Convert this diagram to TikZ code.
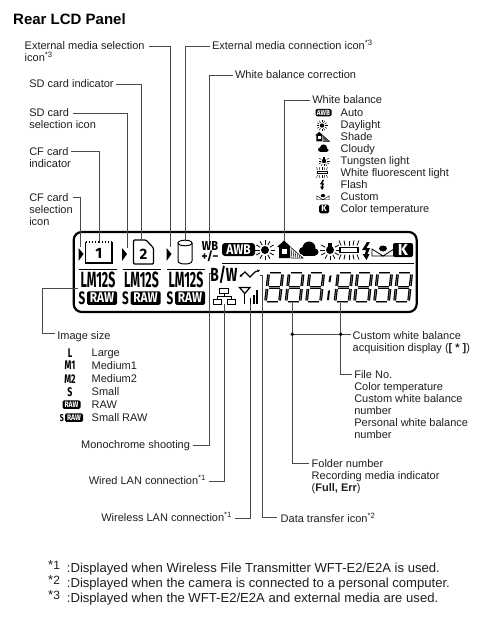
\documentclass[tikz,border=0pt]{standalone}
\usepackage{fontspec}
\setmainfont{Liberation Sans}
\newfontfamily\lcdfont{Fira Sans}
\usetikzlibrary{arrows.meta}
\definecolor{leadgray}{HTML}{4A4A4A}
\definecolor{txtgray}{HTML}{1E1E1E}
\newcommand{\nrw}[2][.7]{\scalebox{#1}[1]{#2}}
\newcommand{\fnmk}[1]{\textsuperscript{*#1}}
\newcommand{\notemk}[1]{\makebox[18.7pt][l]{\raisebox{3pt}{*\fontsize{12}{12}\selectfont #1}}}
\tikzset{
ray/.style={line width=.8pt},
tube/.style={line width=1.3pt},
sunicon/.pic={
\fill (0,0) circle (4);
\foreach \a in {0,30,...,330} \draw[ray] (\a:5.5) -- (\a:10);
},
houseicon/.pic={
\fill (-7,-9.5) -- (-14,-3) -- (-12,-3) -- (-12,8) -- (-1,8) -- (-1,-3) -- (0,-3) -- cycle;
\fill[white] (-9,-1) rectangle (-4,4);
\draw[ray,line width=.5pt] (0,-2.5) -- (12,8) -- (0,8);
\foreach \x in {1,3,...,11} \draw[ray,line width=.5pt] (\x,{\x*.87-2.5}) -- ({\x-1},8);
},
cloudicon/.pic={
\fill (-5,2) circle (4);
\fill (1,-1) circle (6.5);
\fill (7,3) circle (3.5);
\fill (-5,2) rectangle (7,6.5);
},
tungicon/.pic={
\fill (0,0) circle (4);
\fill (-2,-7) rectangle (2,-2);
\foreach \a in {0,30,60,90,120,150,180,210,330} \draw[ray] (\a:5.5) -- (\a:10);
},
fluoricon/.pic={
\draw[tube] (-9,-2.5) rectangle (9,2.5);
\foreach \x in {-8,-4,0,4,8} {
\draw[ray] (\x,-4.5) -- ({\x*1.25},-9.5);
\draw[ray] (\x,4.5) -- ({\x*1.25},9.5);
}
},
flashicon/.pic={
\fill (1,-9) -- (-4,-1) -- (0,-1) -- (-1,3) -- (-3.5,3) -- (.5,9) -- (3.5,3) -- (1.5,3) -- (4,-3) -- (.5,-3) -- (4,-9) -- cycle;
},
customicon/.pic={
\draw[ray] (-11,-2) -- (-11,5) -- (0,5) -- cycle;
\draw[ray] (11,-2) -- (11,5) -- (0,5) -- cycle;
\fill (0,-2.5) ellipse (4 and 3);
},
}
\begin{document}
\begin{tikzpicture}[
x=1pt,y=-1pt,
lbl/.style={anchor=north west,inner sep=0pt,outer xsep=2.5pt,yshift=-.6pt,align=left,text=txtgray,
font=\fontsize{11}{12}\selectfont},
one/.style={lbl,text height=7.9pt,text depth=2.3pt},
note/.style={anchor=west,inner sep=0pt,text=txtgray,font=\fontsize{13.1}{14}\selectfont},
lead/.style={draw=leadgray,line width=.9pt},
panel/.style={draw=black,line width=2.2pt,rounded corners=8pt,minimum width=343pt,minimum height=80pt,inner sep=0pt},
lcd/.style={inner sep=0pt,text=black,font=\lcdfont\bfseries},
lcdbox/.style={fill=black,rounded corners=1.5pt,text=white,inner sep=0pt,font=\lcdfont\bfseries},
seg/.style={line width=1.15pt,double=black!45,double distance=.5pt},
dotjoin/.style={circle,fill=black,inner sep=0pt,minimum size=3.8pt}
]
\useasboundingbox (0,0) rectangle (500,620);
\node[anchor=west,inner sep=0pt,font=\fontsize{15}{17}\selectfont\bfseries] (title) at (13,19) {Rear LCD Panel};

\node[panel] (lcdp) at (245.2,272) {};
\draw[line width=1pt] (222,263) -- (414,263);

\foreach \xo [count=\i] in {0,43.5,88} {
\fill ({78.5+\xo},248) -- ({83.5+\xo},254) -- ({78.5+\xo},261) -- cycle;
\draw[line width=.9pt] ({79+\xo},269) -- ({117+\xo},269);
\node[lcd,font=\lcdfont\bfseries\fontsize{22}{22}\selectfont] (lm\i) at ({98+\xo},280) {\nrw[.56]{LM12S}};
\node[lcd,font=\lcdfont\bfseries\fontsize{18}{18}\selectfont] (ss\i) at ({82+\xo},298) {\nrw[.65]{S}};
\node[lcdbox,minimum width=30pt,minimum height=13.5pt,font=\lcdfont\bfseries\fontsize{14}{14}\selectfont] (raw\i) at ({102+\xo},298) {\nrw[.85]{RAW}};
}

\draw[line width=1.2pt] (85.5,242) -- (85.5,263) -- (112,263) -- (112,242);
\draw[line width=1.2pt,dotted] (85.5,242) -- (112,242);
\node[lcd,font=\lcdfont\bfseries\fontsize{15}{15}\selectfont] (card1) at (98.8,253) {1};
\draw[line width=1.2pt,rounded corners=1pt] (133.5,240) -- (146,240) -- (153.5,248) -- (153.5,264) -- (133.5,264) -- cycle;
\node[lcd,font=\lcdfont\bfseries\fontsize{15}{15}\selectfont] (card2) at (143.5,254) {2};
\draw[line width=1pt] (178,243) -- (178,261) .. controls (178,265) and (192,265) .. (192,261) -- (192,243);
\draw[line width=1pt] (185,243) ellipse (7 and 2.8);

\node[lcd,font=\lcdfont\bfseries\fontsize{13}{13}\selectfont] (wbtop) at (210,246) {\nrw[.85]{WB}};
\node[lcd,font=\lcdfont\bfseries\fontsize{12}{12}\selectfont] (wbpm) at (210,256) {+/−};
\node[lcdbox,minimum width=33pt,minimum height=13pt,rounded corners=3pt,font=\lcdfont\bfseries\fontsize{14}{14}\selectfont] (awb) at (238.5,249.5) {\nrw[.85]{AWB}};
\pic at (265,250) {sunicon};
\pic at (291,250) {houseicon};
\pic at (308,249) {cloudicon};
\pic at (330,250) {tungicon};
\pic at (349,250) {fluoricon};
\pic at (366,251) {flashicon};
\pic at (383,251) {customicon};
\node[lcdbox,minimum width=20pt,minimum height=14pt,rounded corners=2pt,font=\lcdfont\bfseries\fontsize{16}{16}\selectfont] (kbox) at (403,250) {K};

\node[lcd,font=\lcdfont\bfseries\fontsize{19}{19}\selectfont] (bw) at (224,275) {\nrw[.72]{B/W}};
\draw[line width=1.2pt,{Latex[length=2.5pt,width=3pt]}-{Latex[length=2.5pt,width=3pt]}] (239.5,277) -- (245,272) -- (250,277) -- (255,272) -- (260,270);
\draw[line width=.9pt] (219.5,288) rectangle (228,293.5);
\draw[line width=.9pt] (213.5,299) rectangle (221.5,304);
\draw[line width=.9pt] (227,299) rectangle (235,304);
\draw[line width=.9pt] (224,293.5) -- (224,296.3);
\draw[line width=.9pt] (217.5,299) -- (217.5,296.3) -- (231,296.3) -- (231,299);
\draw[line width=1.2pt] (239.5,287.5) -- (250,287.5) -- (244.8,293.5) -- cycle;
\draw[line width=1.2pt] (244.8,293) -- (244.8,304);
\foreach \xb/\yb in {250.5/298,253.7/294.5,257/290} \draw[line width=1.8pt] (\xb,\yb) -- (\xb,304);

\foreach \xd in {265.5,286,306.5,335,354.5,374.5,394.5} {
\begin{scope}[shift={(\xd,302)},xslant=.11]
\foreach \ax/\ay/\bx/\by in {1.5/-29/12.5/-29,1.5/-14.5/12.5/-14.5,1.5/0/12.5/0,
0/-27.5/0/-16,0/-13/0/-1.5,14/-27.5/14/-16,14/-13/14/-1.5}
\draw[seg] (\ax,\ay) -- (\bx,\by);
\end{scope}
}
\fill (328.5,282) -- (329.5,276) -- (331.5,275) -- (330.5,282) -- cycle;
\fill (327,300) -- (328,291) -- (330,290) -- (329,300) -- cycle;

\node[lbl] (extsel) at (22.2,41) {External media selection\\icon\fnmk{3}};
\node[one] (extcon) at (209.5,41) {External media connection icon\fnmk{3}};
\node[one] (sdind) at (26.8,79) {SD card indicator};
\node[lbl] (sdsel) at (26.8,108) {SD card\\selection icon};
\node[lbl] (cfind) at (26.8,146.5) {CF card\\indicator};
\node[lbl] (cfsel) at (26.8,193) {CF card\\selection\\icon};
\node[one] (wbcor) at (232.5,70) {White balance correction};
\node[one] (wbttl) at (309.8,95) {White balance};
\node[one] (imsz) at (54.8,331) {Image size};
\node[one,anchor=north east] (mono) at (192.5,439.5) {Monochrome shooting};
\node[one,anchor=north east] (wired) at (208.5,476) {Wired LAN connection\fnmk{1}};
\node[one,anchor=north east] (wless) at (234.5,512.5) {Wireless LAN connection\fnmk{1}};
\node[one] (dtrans) at (278.2,514) {Data transfer icon\fnmk{2}};
\node[lbl] (cwbacq) at (350.2,330.5) {Custom white balance\\acquisition display (\textbf{[ * ]})};
\node[lbl] (fileno) at (351.8,369.5) {File No.\\Color temperature\\Custom white balance\\number\\Personal white balance\\number};
\node[lbl] (folder) at (309.2,458.5) {Folder number\\Recording media indicator\\(\textbf{Full, Err})};

\foreach \yr/\tr [count=\i] in {108/Auto,120/Daylight,132/Shade,144/Cloudy,156/Tungsten light,168/White fluorescent light,180/Flash,192/Custom,204/Color temperature}
\node[one] (wbl\i) at (338.2,\yr) {\tr};
\node[lcdbox,minimum width=16pt,minimum height=7.5pt,font=\lcdfont\bfseries\fontsize{7.5}{7.5}\selectfont] (awbs) at (323.5,112.7) {\nrw[.85]{AWB}};
\begin{scope}[ray/.style={line width=.45pt},tube/.style={line width=.8pt}]
\pic[scale=.55] at (322,125.5) {sunicon};
\pic[scale=.55] at (323,137) {houseicon};
\pic[scale=.55] at (323,148.5) {cloudicon};
\pic[scale=.55] at (324,161) {tungicon};
\pic[scale=.55] at (322,172.5) {fluoricon};
\pic[scale=.55] at (322,185) {flashicon};
\pic[scale=.55] at (323,197) {customicon};
\end{scope}
\node[lcdbox,minimum width=10pt,minimum height=8.5pt,font=\lcdfont\bfseries\fontsize{8.5}{8.5}\selectfont] (ks) at (324,209) {K};

\foreach \yr/\yt/\tr/\sz [count=\i] in {352.7/347.6/Large/L,365.6/360.5/Medium1/M1,378.7/373.6/Medium2/M2,391.7/386.6/Small/S}{
\node[one] (szl\i) at (89.2,\yt) {\tr};
\node[lcd,font=\lcdfont\bfseries\fontsize{12.5}{12.5}\selectfont] (szi\i) at (70,\yr) {\nrw[.7]{\sz}};
}
\node[one] (szl5) at (89.2,399.6) {RAW};
\node[lcdbox,minimum width=18pt,minimum height=8.5pt,font=\lcdfont\bfseries\fontsize{8}{8}\selectfont] (szi5) at (71.5,404.7) {\nrw[.85]{RAW}};
\node[one] (szl6) at (89.2,412.6) {Small RAW};
\node[lcd,font=\lcdfont\bfseries\fontsize{10}{10}\selectfont] (szs6) at (62,417.7) {\nrw[.7]{S}};
\node[lcdbox,minimum width=18pt,minimum height=8.5pt,font=\lcdfont\bfseries\fontsize{8}{8}\selectfont] (szi6) at (74,417.7) {\nrw[.85]{RAW}};

\node[note] (fn1) at (48,567.7) {\notemk{1}:Displayed when Wireless File Transmitter WFT-E2/E2A is used.};
\node[note] (fn2) at (48,582.6) {\notemk{2}:Displayed when the camera is connected to a personal computer.};
\node[note] (fn3) at (48,597.6) {\notemk{3}:Displayed when the WFT-E2/E2A and external media are used.};

\coordinate (extselS) at (149,46.7);
\coordinate (extselE) at (170,247);
\coordinate (extconE) at (185.5,241);
\coordinate (sdindE) at (141.7,240);
\coordinate (sdselS) at (73,113);
\coordinate (sdselE) at (127,248);
\coordinate (cfindS) at (71,151);
\coordinate (cfindE) at (99.4,242);
\coordinate (cfselS) at (73,197);
\coordinate (cfselE) at (80,247);
\coordinate (wbcorE) at (209,241);
\coordinate (wbttlE) at (284,241);
\coordinate (imszE) at (78,288);
\coordinate (imszS) at (55,333);
\coordinate (monoE) at (211,273);
\coordinate (wiredE) at (224.3,304);
\coordinate (wlessE) at (250.7,304);
\coordinate (dtransS) at (277,517.5);
\coordinate (dtransE) at (260,275);
\coordinate (fldE) at (292.3,303);
\coordinate (filE) at (340.7,303);
\coordinate (cwbS) at (350.7,334.3);
\coordinate (folS) at (309,463);
\coordinate (filS) at (352,374.3);

\draw[lead] (extselS) -| (extselE);
\draw[lead] (extcon.west) -| (extconE);
\draw[lead] (sdind.east) -| (sdindE);
\draw[lead] (sdselS) -| (sdselE);
\draw[lead] (cfindS) -| (cfindE);
\draw[lead] (cfselS) -| (cfselE);
\draw[lead] (wbcor.west) -| (wbcorE);
\draw[lead] (wbttl.west) -| (wbttlE);
\draw[lead] (imszE) -- (42.7,288) |- (imszS);
\draw[lead] (mono.east) -| (209,273) -- (monoE);
\draw[lead] (wired.east) -| (wiredE);
\draw[lead] (wless.east) -| (wlessE);
\draw[lead] (dtransS) -| (262.3,275) -- (dtransE);
\draw[lead] (fldE) |- (folS);
\draw[lead] (filE) |- (filS);
\draw[lead] (fldE |- cwbS) -- (cwbS);
\node[dotjoin] (dotfld) at (fldE |- cwbS) {};
\node[dotjoin] (dotfil) at (filE |- cwbS) {};
\end{tikzpicture}
\end{document}
